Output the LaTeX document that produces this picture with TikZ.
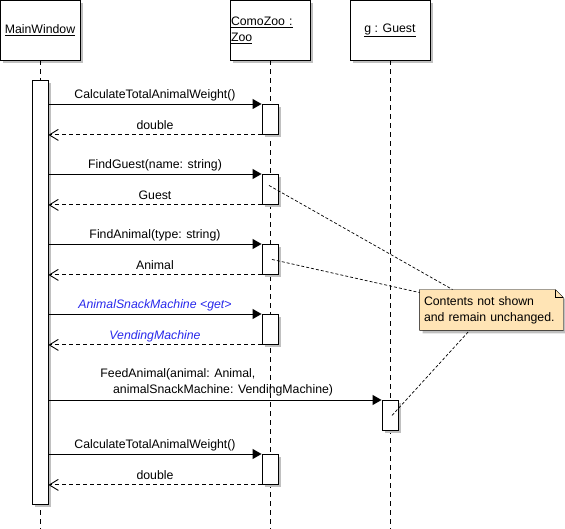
\documentclass[tikz,border=0pt]{standalone}
\usepackage{fontspec}
\setmainfont{Liberation Sans}
\usetikzlibrary{arrows.meta, positioning, shadows, calc, backgrounds}
\definecolor{umlNote}{RGB}{255,228,181}
\definecolor{umlShadow}{RGB}{192,192,192}
\definecolor{umlBlue}{RGB}{40,40,235}

\begin{document}
\begin{tikzpicture}[x=1pt, y=-1pt, line width=0.9pt,
    font=\fontsize{12.3}{16}\selectfont,
    umlshadow/.style={drop shadow={shadow xshift=3pt, shadow yshift=-3pt, fill=umlShadow, opacity=1}},
    lifebox/.style={draw, fill=white, minimum width=80pt, minimum height=60pt, inner sep=0pt, umlshadow},
    actbox/.style={draw, fill=white, minimum width=16pt, minimum height=#1, inner sep=0pt, anchor=north, umlshadow},
    lifeline/.style={dash pattern=on 5pt off 4pt},
    call/.style={-{Triangle[length=9pt, width=10pt]}},
    ret/.style={dashed, dash pattern=on 4pt off 3pt, -{Straight Barb[length=9pt, width=11pt]}},
    msg/.style={anchor=base, yshift=5.5pt, inner sep=0pt},
    getter/.style={msg, umlBlue, font=\fontsize{12.3}{16}\selectfont\itshape},
    noteline/.style={dash pattern=on 3pt off 2pt, line width=0.7pt}]
  \useasboundingbox (0,0) rectangle (565,529);
  \coordinate (bottom) at (0,529);

  % lifeline heads
  \node[lifebox] (main) at (40,30) {\underline{MainWindow}};
  \node[lifebox, text width=78pt, inner xsep=1pt, align=left] (zoo) at (270,30) {\underline{ComoZoo :}\\\underline{Zoo}};
  \node[lifebox] (guest) at (390,30) {\underline{g : Guest}};

  \draw[lifeline] (main.south) -- (main.south |- bottom);
  \draw[lifeline] (zoo.south) -- (zoo.south |- bottom);
  \draw[lifeline] (guest.south) -- (guest.south |- bottom);

  % activations
  \node[actbox=424pt] (mAct) at (40,80) {};
  \node[actbox=30pt] (z1) at (270,104) {};
  \node[actbox=30pt] (z2) at (270,174) {};
  \node[actbox=30pt] (z3) at (270,244) {};
  \node[actbox=30pt] (z4) at (270,314) {};
  \node[actbox=30pt] (g1) at (390,400) {};
  \node[actbox=30pt] (z5) at (270,454) {};

  % messages
  \draw[call] (mAct.east |- z1.north) -- node[msg] {CalculateTotalAnimalWeight()} (z1.north west);
  \draw[ret] (z1.south west) -- node[msg] {double} (mAct.east |- z1.south);
  \draw[call] (mAct.east |- z2.north) -- node[msg] {FindGuest(name: string)} (z2.north west);
  \draw[ret] (z2.south west) -- node[msg] {Guest} (mAct.east |- z2.south);
  \draw[call] (mAct.east |- z3.north) -- node[msg] {FindAnimal(type: string)} (z3.north west);
  \draw[ret] (z3.south west) -- node[msg] {Animal} (mAct.east |- z3.south);
  \draw[call] (mAct.east |- z4.north) -- node[getter] {AnimalSnackMachine <get>} (z4.north west);
  \draw[ret] (z4.south west) -- node[getter] {VendingMachine} (mAct.east |- z4.south);
  \draw[call] (mAct.east |- g1.north) -- (g1.north west);
  \node[anchor=south west, inner sep=0pt, align=left] (feedLbl) at (100,396.5)
    {FeedAnimal(animal: Animal,\\\hspace*{12.7pt}animalSnackMachine: VendingMachine)};
  \draw[call] (mAct.east |- z5.north) -- node[msg] {CalculateTotalAnimalWeight()} (z5.north west);
  \draw[ret] (z5.south west) -- node[msg] {double} (mAct.east |- z5.south);

  % note
  \node[minimum width=143pt, minimum height=40pt, text width=135pt, inner xsep=4pt, align=left] (note) at (491.5,310)
    {Contents not shown\\and remain unchanged.};
  \begin{scope}[on background layer]
    \draw[fill=umlNote, umlshadow] (note.north west) -- ([xshift=-8pt]note.north east)
      -- ([yshift=-8pt]note.north east) -- (note.south east) -- (note.south west) -- cycle;
    \draw ([xshift=-8pt]note.north east) |- ([yshift=-8pt]note.north east);
  \end{scope}
  \draw[noteline] ($(z2.center)+(-1,-4)$) -- ([xshift=33pt]note.north west);
  \draw[noteline] ($(z3.center)+(2,0)$) -- ([yshift=-3pt]note.north west);
  \draw[noteline] ($(g1.center)+(2,0)$) -- ([xshift=50pt]note.south west);
\end{tikzpicture}
\end{document}
